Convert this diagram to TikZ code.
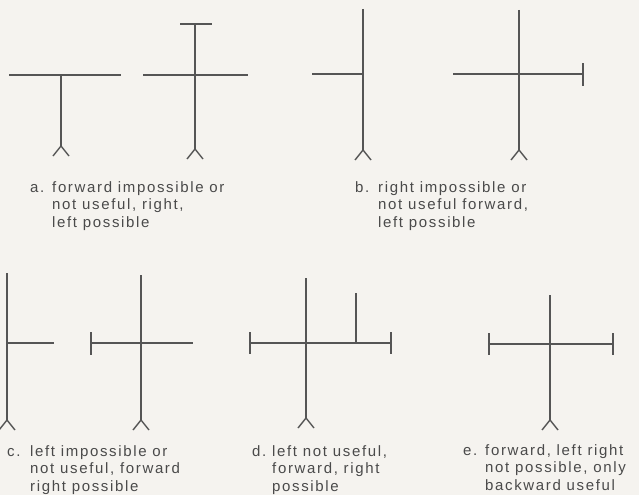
\documentclass[tikz,border=0pt]{standalone}
\usepackage{fontspec}
\setmainfont{Liberation Sans}[LetterSpace=11]
\definecolor{paper}{HTML}{F5F3EF}
\definecolor{ink}{HTML}{555555}
\definecolor{txt}{HTML}{4A4A4A}
\tikzset{
  road/.style={draw=ink, line width=1.4pt},
  lbl/.style={anchor=base west, align=left, text=txt, inner sep=0pt, font=\fontsize{15}{17.5}\selectfont},
  fork/.pic={\draw[road] (-8,10) -- (0,0) -- (8,10);}
}
\begin{document}
\begin{tikzpicture}[x=1pt,y=-1pt]
\fill[paper] (0,0) rectangle (639,495);
\useasboundingbox (0,0) rectangle (639,495);
% a1
\coordinate (a1l) at (9,75); \coordinate (a1r) at (121,75);
\coordinate (a1c) at (61,75); \coordinate (a1b) at (61,146);
\draw[road] (a1l) -- (a1r);
\draw[road] (a1c) -- (a1b);
\pic at (a1b) {fork};
% a2
\coordinate (a2l) at (143,75); \coordinate (a2r) at (248,75);
\coordinate (a2t) at (195,24); \coordinate (a2b) at (195,149);
\coordinate (a2tl) at (180,24); \coordinate (a2tr) at (212,24);
\draw[road] (a2l) -- (a2r);
\draw[road] (a2t) -- (a2b);
\draw[road] (a2tl) -- (a2tr);
\pic at (a2b) {fork};
% b1
\coordinate (b1t) at (363,9); \coordinate (b1b) at (363,150);
\coordinate (b1l) at (312,74); \coordinate (b1c) at (363,74);
\draw[road] (b1t) -- (b1b);
\draw[road] (b1l) -- (b1c);
\pic at (b1b) {fork};
% b2
\coordinate (b2t) at (519,10); \coordinate (b2b) at (519,150);
\coordinate (b2l) at (453,74); \coordinate (b2r) at (583,74);
\coordinate (b2rt) at (583,63); \coordinate (b2rb) at (583,86);
\draw[road] (b2t) -- (b2b);
\draw[road] (b2l) -- (b2r);
\draw[road] (b2rt) -- (b2rb);
\pic at (b2b) {fork};
% c1
\coordinate (c1t) at (7,273); \coordinate (c1b) at (7,420);
\coordinate (c1c) at (7,343); \coordinate (c1r) at (54,343);
\draw[road] (c1t) -- (c1b);
\draw[road] (c1c) -- (c1r);
\pic at (c1b) {fork};
% c2
\coordinate (c2t) at (141,275); \coordinate (c2b) at (141,420);
\coordinate (c2l) at (91,343); \coordinate (c2r) at (193,343);
\coordinate (c2lt) at (91,332); \coordinate (c2lb) at (91,355);
\draw[road] (c2t) -- (c2b);
\draw[road] (c2l) -- (c2r);
\draw[road] (c2lt) -- (c2lb);
\pic at (c2b) {fork};
% d
\coordinate (dt) at (306,278); \coordinate (db) at (306,418);
\coordinate (dl) at (250,343); \coordinate (dr) at (391,343);
\coordinate (dlt) at (250,332); \coordinate (dlb) at (250,354);
\coordinate (drt) at (391,332); \coordinate (drb) at (391,354);
\coordinate (dst) at (356,293); \coordinate (dsb) at (356,343);
\draw[road] (dt) -- (db);
\draw[road] (dl) -- (dr);
\draw[road] (dlt) -- (dlb);
\draw[road] (drt) -- (drb);
\draw[road] (dst) -- (dsb);
\pic at (db) {fork};
% e
\coordinate (et) at (550,295); \coordinate (eb) at (550,420);
\coordinate (el) at (489,344); \coordinate (er) at (613,344);
\coordinate (elt) at (489,333); \coordinate (elb) at (489,355);
\coordinate (ert) at (613,333); \coordinate (erb) at (613,355);
\draw[road] (et) -- (eb);
\draw[road] (el) -- (er);
\draw[road] (elt) -- (elb);
\draw[road] (ert) -- (erb);
\draw[road] (et) -- (eb);
\pic at (eb) {fork};
% labels (base anchor = last line baseline)
\node[lbl] (la) at (30,192) {a.};
\node[lbl] (ta) at (52,227) {forward impossible or\\not useful, right,\\left possible};
\node[lbl] (lb) at (355,192) {b.};
\node[lbl] (tb) at (378,227) {right impossible or\\not useful forward,\\left possible};
\node[lbl] (lc) at (7,456) {c.};
\node[lbl] (tc) at (30,491) {left impossible or\\not useful, forward\\right possible};
\node[lbl] (ld) at (252,456) {d.};
\node[lbl] (td) at (272,491) {left not useful,\\forward, right\\possible};
\node[lbl] (le) at (463,455) {e.};
\node[lbl] (te) at (485,490) {forward, left right\\not possible, only\\backward useful};
\end{tikzpicture}
\end{document}
